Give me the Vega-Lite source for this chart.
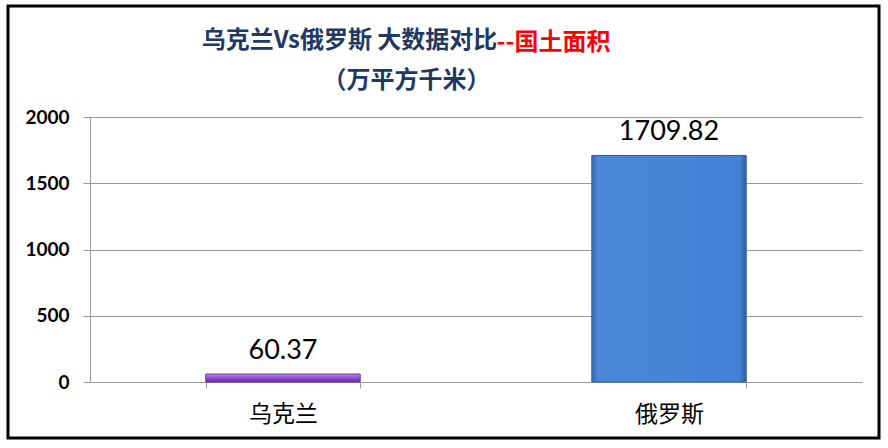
{
  "$schema": "https://vega.github.io/schema/vega-lite/v6.json",
  "autosize": {"type": "none"},
  "padding": {"left": 8, "top": 6, "right": 9, "bottom": 10},
  "width": 871,
  "height": 432,
  "background": "white",
  "title": {
    "text": ["\u200b乌克兰Vs俄罗斯 大数据对比　　　　\u2002\u2005\u200b", "（万平方千米）"],
    "subtitle": "\u200b　　　　　　　　　　　　\u2005--国土面积\u200b",
    "anchor": "middle",
    "orient": "top",
    "offset": -87,
    "dx": -37,
    "font": "Noto Sans CJK SC",
    "fontSize": 24,
    "fontWeight": "bold",
    "color": "#1F3864",
    "lineHeight": 40,
    "subtitleFont": "Noto Sans CJK SC",
    "subtitleFontSize": 24,
    "subtitleFontWeight": "bold",
    "subtitleColor": "#FF0000",
    "subtitlePadding": -62
  },
  "data": {
    "values": [
      {"country": "乌克兰", "area": 60.37},
      {"country": "俄罗斯", "area": 1709.82}
    ]
  },
  "encoding": {
    "x": {
      "field": "country",
      "type": "nominal",
      "sort": null,
      "title": null,
      "scale": {"range": [82, 854], "paddingInner": 0.6, "paddingOuter": 0.3},
      "axis": {
        "offset": -56,
        "labelAngle": 0,
        "labelFont": "Noto Sans CJK SC",
        "labelFontSize": 23,
        "labelColor": "black",
        "labelPadding": 15,
        "domainColor": "#999999",
        "tickColor": "#999999",
        "tickBand": "extent",
        "tickSize": 6,
        "grid": false
      }
    },
    "y": {
      "field": "area",
      "type": "quantitative",
      "title": null,
      "scale": {"domain": [0, 2000], "range": [376, 111], "nice": false},
      "axis": {
        "offset": -82,
        "values": [0, 500, 1000, 1500, 2000],
        "format": "d",
        "labelFont": "Lato",
        "labelFontSize": 19,
        "labelFontWeight": "bold",
        "labelColor": "black",
        "labelPadding": 14,
        "domainColor": "#999999",
        "tickColor": "#999999",
        "tickSize": 7,
        "gridColor": "#999999",
        "gridWidth": 1
      }
    }
  },
  "layer": [
    {
      "mark": {"type": "bar", "strokeWidth": 1},
      "encoding": {
        "color": {
          "condition": {
            "test": "datum.country === '乌克兰'",
            "value": {
              "gradient": "linear", "x1": 0, "y1": 0, "x2": 0, "y2": 1,
              "stops": [
                {"offset": 0, "color": "#B98AE6"},
                {"offset": 0.5, "color": "#8E4FD0"},
                {"offset": 1, "color": "#6A2FA8"}
              ]
            }
          },
          "value": {
            "gradient": "linear", "x1": 0, "y1": 0, "x2": 1, "y2": 0,
            "stops": [
              {"offset": 0, "color": "#3569B0"},
              {"offset": 0.04, "color": "#4A88D8"},
              {"offset": 0.96, "color": "#4281D4"},
              {"offset": 1, "color": "#2F5E9E"}
            ]
          }
        },
        "stroke": {
          "condition": {"test": "datum.country === '乌克兰'", "value": "#6A2FA8"},
          "value": "#2F5E9E"
        }
      }
    },
    {
      "mark": {
        "type": "text",
        "baseline": "bottom",
        "dy": -9,
        "font": "Lato",
        "fontSize": 27,
        "color": "black"
      },
      "encoding": {
        "text": {"field": "area", "type": "quantitative", "format": ".2f"}
      }
    }
  ],
  "config": {
    "view": {"stroke": "black", "strokeWidth": 3}
  }
}
